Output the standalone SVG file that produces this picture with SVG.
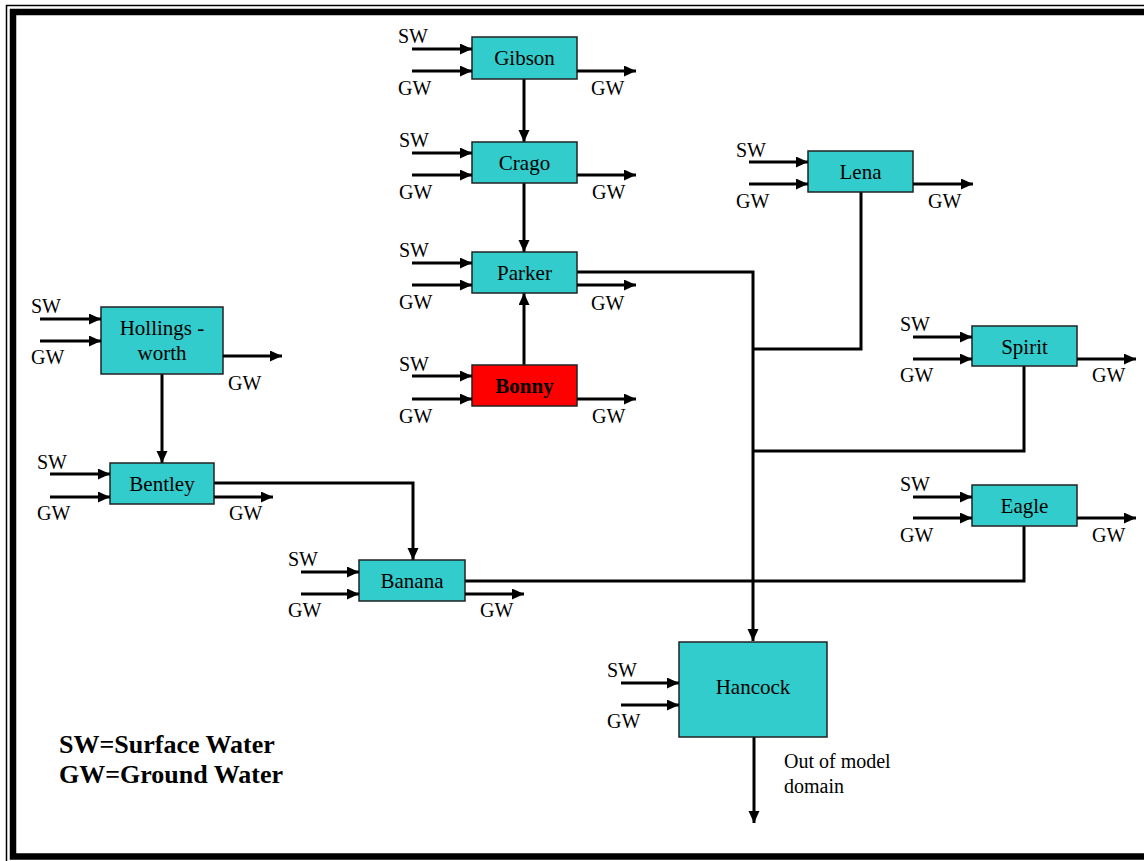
<svg xmlns="http://www.w3.org/2000/svg" width="1144" height="861" viewBox="0 0 1144 861">
<style>
.node{fill:#33CCCC;stroke:#222;stroke-width:1.5}
.red{fill:#FF0000;stroke:#222;stroke-width:1.5}
text{font-family:'Liberation Serif','DejaVu Serif',serif}
.lbl{font-size:21px;fill:#000;text-anchor:middle}
.io{font-size:20px;fill:#000}
.ln{fill:none;stroke:#000;stroke-width:3}
.ar{fill:none;stroke:#000;stroke-width:3;marker-end:url(#ah)}
.leg{font-size:26px;font-weight:bold;fill:#000}
</style>
<defs>
<marker id="ah" markerUnits="userSpaceOnUse" markerWidth="14" markerHeight="12" refX="12" refY="5.5" orient="auto">
<path d="M0,0 L12,5.5 L0,11 Z" fill="#000"/>
</marker>
</defs>
<rect x="0" y="0" width="1144" height="861" fill="#fff"/>
<g id="frame">
<rect x="6.5" y="5.5" width="1200" height="870" fill="none" stroke="#000" stroke-width="1.5"/>
<rect x="13" y="12" width="1200" height="844.5" fill="none" stroke="#000" stroke-width="6.5"/>
</g>

<g id="connectors">
<line class="ar" x1="524" y1="79" x2="524" y2="142"/>
<line class="ar" x1="524" y1="183" x2="524" y2="252"/>
<line class="ar" x1="524" y1="365" x2="524" y2="293"/>
<polyline class="ar" points="577,272 753,272 753,641"/>
<polyline class="ln" points="861,192 861,349 753,349"/>
<polyline class="ln" points="1024,366 1024,451 753,451"/>
<polyline class="ln" points="1024,526 1024,581 465,581"/>
<line class="ar" x1="162" y1="374" x2="162" y2="463"/>
<polyline class="ar" points="214,483 413,483 413,560"/>
<line class="ar" x1="754" y1="737" x2="754" y2="823"/>
</g>

<g id="gibson">
<rect class="node" x="472" y="37" width="105" height="42"/>
<text class="lbl" x="524.5" y="65" font-family="Liberation Serif, serif">Gibson</text>
<line class="ar" x1="412" y1="49" x2="472" y2="49"/>
<line class="ar" x1="412" y1="71" x2="472" y2="71"/>
<line class="ar" x1="577" y1="71" x2="636" y2="71"/>
<text class="io" x="398" y="43">SW</text>
<text class="io" x="398" y="95">GW</text>
<text class="io" x="591" y="95">GW</text>
</g>

<g id="crago">
<rect class="node" x="472" y="142" width="105" height="41"/>
<text class="lbl" x="524.5" y="170">Crago</text>
<line class="ar" x1="412" y1="153" x2="472" y2="153"/>
<line class="ar" x1="412" y1="175" x2="472" y2="175"/>
<line class="ar" x1="577" y1="175" x2="636" y2="175"/>
<text class="io" x="399" y="147">SW</text>
<text class="io" x="399" y="199">GW</text>
<text class="io" x="592" y="199">GW</text>
</g>

<g id="parker">
<rect class="node" x="472" y="252" width="105" height="41"/>
<text class="lbl" x="524.5" y="280">Parker</text>
<line class="ar" x1="412" y1="263" x2="472" y2="263"/>
<line class="ar" x1="412" y1="285" x2="472" y2="285"/>
<line class="ar" x1="577" y1="285" x2="636" y2="285"/>
<text class="io" x="399" y="257">SW</text>
<text class="io" x="399" y="309">GW</text>
<text class="io" x="591" y="310">GW</text>
</g>

<g id="bonny">
<rect class="red" x="472" y="365" width="105" height="41"/>
<text class="lbl" x="524.5" y="393" font-weight="bold">Bonny</text>
<line class="ar" x1="412" y1="376" x2="472" y2="376"/>
<line class="ar" x1="412" y1="399" x2="472" y2="399"/>
<line class="ar" x1="577" y1="399" x2="636" y2="399"/>
<text class="io" x="399" y="371">SW</text>
<text class="io" x="399" y="423">GW</text>
<text class="io" x="592" y="423">GW</text>
</g>

<g id="hollingsworth">
<rect class="node" x="101" y="307" width="122" height="67"/>
<text class="lbl" x="162" y="335">Hollings -</text>
<text class="lbl" x="162" y="360">worth</text>
<line class="ar" x1="40" y1="319" x2="101" y2="319"/>
<line class="ar" x1="40" y1="341" x2="101" y2="341"/>
<line class="ar" x1="223" y1="356" x2="282" y2="356"/>
<text class="io" x="31" y="313">SW</text>
<text class="io" x="31" y="364">GW</text>
<text class="io" x="228" y="390">GW</text>
</g>

<g id="bentley">
<rect class="node" x="110" y="463" width="104" height="41"/>
<text class="lbl" x="162" y="491">Bentley</text>
<line class="ar" x1="50" y1="474" x2="110" y2="474"/>
<line class="ar" x1="50" y1="497" x2="110" y2="497"/>
<line class="ar" x1="214" y1="497" x2="273" y2="497"/>
<text class="io" x="37" y="469">SW</text>
<text class="io" x="37" y="520">GW</text>
<text class="io" x="229" y="520">GW</text>
</g>

<g id="banana">
<rect class="node" x="359" y="560" width="106" height="41"/>
<text class="lbl" x="412" y="588">Banana</text>
<line class="ar" x1="301" y1="572" x2="359" y2="572"/>
<line class="ar" x1="301" y1="594" x2="359" y2="594"/>
<line class="ar" x1="465" y1="594" x2="524" y2="594"/>
<text class="io" x="288" y="566">SW</text>
<text class="io" x="288" y="617">GW</text>
<text class="io" x="480" y="617">GW</text>
</g>

<g id="lena">
<rect class="node" x="808" y="151" width="105" height="41"/>
<text class="lbl" x="860.5" y="179">Lena</text>
<line class="ar" x1="749" y1="162" x2="808" y2="162"/>
<line class="ar" x1="749" y1="184" x2="808" y2="184"/>
<line class="ar" x1="913" y1="184" x2="973" y2="184"/>
<text class="io" x="736" y="157">SW</text>
<text class="io" x="736" y="208">GW</text>
<text class="io" x="928" y="208">GW</text>
</g>

<g id="spirit">
<rect class="node" x="972" y="326" width="105" height="40"/>
<text class="lbl" x="1024.5" y="354">Spirit</text>
<line class="ar" x1="913" y1="337" x2="972" y2="337"/>
<line class="ar" x1="913" y1="359" x2="972" y2="359"/>
<line class="ar" x1="1077" y1="359" x2="1136" y2="359"/>
<text class="io" x="900" y="331">SW</text>
<text class="io" x="900" y="382">GW</text>
<text class="io" x="1092" y="382">GW</text>
</g>

<g id="eagle">
<rect class="node" x="972" y="485" width="105" height="41"/>
<text class="lbl" x="1024.5" y="513">Eagle</text>
<line class="ar" x1="913" y1="497" x2="972" y2="497"/>
<line class="ar" x1="913" y1="518" x2="972" y2="518"/>
<line class="ar" x1="1077" y1="518" x2="1136" y2="518"/>
<text class="io" x="900" y="491">SW</text>
<text class="io" x="900" y="542">GW</text>
<text class="io" x="1092" y="542">GW</text>
</g>

<g id="hancock">
<rect class="node" x="679" y="642" width="148" height="95"/>
<text class="lbl" x="753" y="694">Hancock</text>
<line class="ar" x1="621" y1="683" x2="679" y2="683"/>
<line class="ar" x1="621" y1="705" x2="679" y2="705"/>
<text class="io" x="607" y="677">SW</text>
<text class="io" x="607" y="728">GW</text>
<text class="io" x="784" y="768">Out of model</text>
<text class="io" x="784" y="793">domain</text>
</g>

<g id="legend">
<text class="leg" x="59" y="753">SW=Surface Water</text>
<text class="leg" x="59" y="783">GW=Ground Water</text>
</g>
</svg>
